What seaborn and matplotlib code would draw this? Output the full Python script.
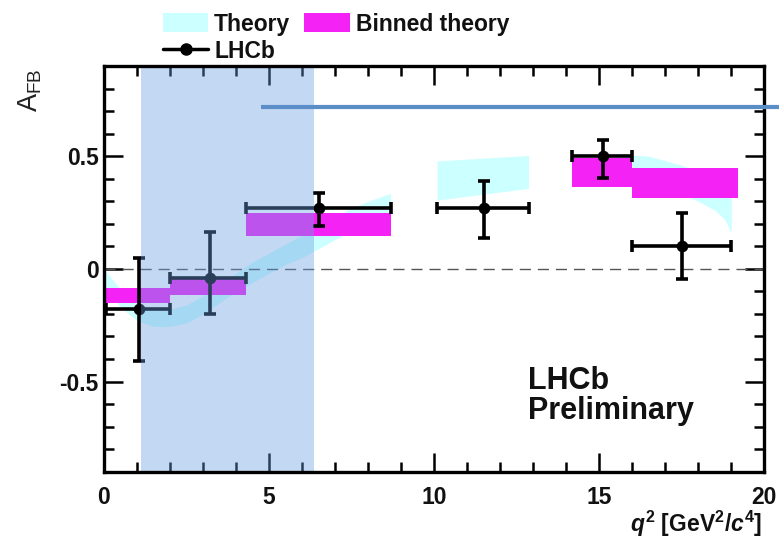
import matplotlib
matplotlib.use("Agg")
import matplotlib.pyplot as plt
import seaborn as sns
import numpy as np
import pandas as pd
from matplotlib.patches import Patch
from matplotlib.lines import Line2D
from matplotlib.ticker import MultipleLocator

# ---------------- data ----------------
# LHCb measurement
data_q2 = [1.05, 3.2, 6.5, 11.5, 15.1, 17.5]
data_bin_lo = [0.05, 2.0, 4.3, 10.09, 14.18, 16.0]
data_bin_hi = [2.0, 4.3, 8.68, 12.86, 16.0, 19.0]
data_afb = [-0.18, -0.04, 0.27, 0.27, 0.50, 0.10]
data_err_up = [0.23, 0.205, 0.065, 0.12, 0.07, 0.15]
data_err_dn = [0.23, 0.16, 0.08, 0.135, 0.095, 0.145]

# binned theory (magenta boxes)
bin_lo = [0.05, 2.0, 4.3, 14.18, 16.0]
bin_hi = [2.0, 4.3, 8.68, 16.0, 19.2]
bin_afb_lo = [-0.15, -0.118, 0.146, 0.364, 0.313]
bin_afb_hi = [-0.085, -0.041, 0.246, 0.49, 0.446]

# theory band (three segments)
th1_q2 = [0.05, 0.5, 1.0, 1.5, 2.0, 2.5, 3.0, 3.5, 4.0, 4.5, 5.0, 5.5, 6.0, 6.5, 7.0, 7.5, 8.0, 8.68]
th1_hi = [-0.01, -0.09, -0.15, -0.18, -0.18, -0.16, -0.12, -0.07, -0.02, 0.03, 0.07, 0.11, 0.15, 0.19, 0.23, 0.27, 0.30, 0.335]
th1_lo = [-0.09, -0.17, -0.23, -0.255, -0.255, -0.24, -0.20, -0.15, -0.10, -0.06, -0.02, 0.02, 0.05, 0.09, 0.13, 0.17, 0.20, 0.23]
th2_q2 = [10.09, 12.86]
th2_hi = [0.479, 0.503]
th2_lo = [0.305, 0.357]
th3_q2 = [14.18, 15.0, 16.0, 16.5, 17.0, 17.5, 18.0, 18.5, 18.8, 19.0]
th3_hi = [0.47, 0.49, 0.505, 0.50, 0.48, 0.46, 0.43, 0.39, 0.35, 0.31]
th3_lo = [0.37, 0.38, 0.38, 0.37, 0.35, 0.33, 0.30, 0.26, 0.22, 0.16]

# highlighted region and pointer line (annotation overlay)
highlight_q2 = [1.12, 6.37]
pointer_q2 = [4.75, 20.7]
pointer_afb = 0.716

xtick_vals = [0, 5, 10, 15, 20]
xtick_labels = ["0", "5", "10", "15", "20"]
ytick_vals = [-0.5, 0.0, 0.5]
ytick_labels = ["-0.5", "0", "0.5"]

# ---------------- style ----------------
sns.set_theme(style="ticks")
plt.rcParams["font.family"] = ["Liberation Sans", "DejaVu Sans"]
plt.rcParams["mathtext.fontset"] = "custom"
plt.rcParams["mathtext.rm"] = "Liberation Sans:bold"
plt.rcParams["mathtext.it"] = "Liberation Sans:bold:italic"
plt.rcParams["mathtext.bf"] = "Liberation Sans:bold"

CYAN = "#ccffff"
MAGENTA = "#f522f5"
OVERLAY = (105 / 255, 158 / 255, 225 / 255)
POINTER = "#5b8ec6"

fig = plt.figure(figsize=(7.79, 5.41), dpi=100)
ax = fig.add_axes([104 / 779, 1 - 471.7 / 541, (764.3 - 104) / 779, (471.7 - 66) / 541])

# theory band
for q, lo, hi in [(th1_q2, th1_lo, th1_hi), (th2_q2, th2_lo, th2_hi), (th3_q2, th3_lo, th3_hi)]:
    ax.fill_between(q, lo, hi, color=CYAN, lw=0, zorder=1)

# binned theory
bin_df = pd.DataFrame({"lo": bin_lo, "hi": bin_hi, "ylo": bin_afb_lo, "yhi": bin_afb_hi})
ax.bar(bin_df["lo"], bin_df["yhi"] - bin_df["ylo"], bottom=bin_df["ylo"],
       width=bin_df["hi"] - bin_df["lo"], align="edge", color=MAGENTA, lw=0, zorder=1.5)

# zero line
ax.axhline(0, color="#555555", lw=1.0, ls=(0, (8, 5)), zorder=1.8)

# LHCb data
df = pd.DataFrame({"q2": data_q2, "afb": data_afb})
xerr = [np.array(data_q2) - np.array(data_bin_lo), np.array(data_bin_hi) - np.array(data_q2)]
yerr = [data_err_dn, data_err_up]
ax.errorbar(data_q2, data_afb, xerr=xerr, yerr=yerr, fmt="none", ecolor="black",
            elinewidth=2.6, capsize=4, capthick=2.6, zorder=2)
sns.scatterplot(data=df, x="q2", y="afb", color="black", s=70, edgecolor="black",
                linewidth=0, ax=ax, zorder=2.1, legend=False)

# overlay highlight
ax.axvspan(highlight_q2[0], highlight_q2[1], color=OVERLAY, alpha=0.4, lw=0, zorder=2.3)

# pointer line
ax.plot(pointer_q2, [pointer_afb, pointer_afb], color=POINTER, lw=3.0,
        solid_capstyle="butt", clip_on=False, zorder=10)

# axes
ax.set_xlim(0, 20)
ax.set_ylim(-0.9, 0.9)
ax.set_xticks(xtick_vals)
ax.set_xticklabels(xtick_labels)
ax.set_yticks(ytick_vals)
ax.set_yticklabels(ytick_labels)
ax.xaxis.set_minor_locator(MultipleLocator(1))
ax.yaxis.set_minor_locator(MultipleLocator(0.1))
ax.tick_params(which="both", direction="in", top=True, right=True, width=1.8, color="black")
ax.tick_params(which="major", length=14)
ax.tick_params(which="minor", length=7)
ax.tick_params(axis="x", which="major", pad=10, labelsize=16.5)
ax.tick_params(axis="y", which="major", pad=4, labelsize=16.5)
for lab in ax.get_xticklabels() + ax.get_yticklabels():
    lab.set_fontweight("bold")
    lab.set_color("#111111")
for sp in ax.spines.values():
    sp.set_linewidth(2.4)
    sp.set_color("black")
    sp.set_zorder(3)
ax.set_xlabel("")
ax.set_ylabel("")

fig.text(762 / 779, 1 - 524 / 541, r"$q^2$ [GeV$^2$/$c^4$]", ha="right", va="center",
         fontsize=16.5, fontweight="bold", color="#111111")
fig.text(30 / 779, 1 - 90 / 541, r"A$_{\mathregular{FB}}$", rotation=90, ha="center", va="center",
         fontsize=19.5, color="#222222")

ax.text(12.85, -0.565, "LHCb\nPreliminary", ha="left", va="center", fontsize=22,
        fontweight="bold", color="#111111", linespacing=1.02, zorder=5)

# legend
handles = [
    Patch(facecolor=CYAN, edgecolor="none"),
    Line2D([], [], color="black", lw=2.5, marker="o", markersize=8),
    Patch(facecolor=MAGENTA, edgecolor="none"),
]
labels = ["Theory", "LHCb", "Binned theory"]
leg = fig.legend(handles, labels, ncol=2, loc="upper left", bbox_to_anchor=(158 / 779, 1 - 8 / 541),
                 frameon=False, prop={"weight": "bold", "size": 16.5}, handlelength=2.0,
                 handleheight=0.9, handletextpad=0.25, columnspacing=0.6, labelspacing=0.2,
                 borderpad=0.2, borderaxespad=0)
for t in leg.get_texts():
    t.set_color("#111111")

fig.savefig("out.png", dpi=100)
